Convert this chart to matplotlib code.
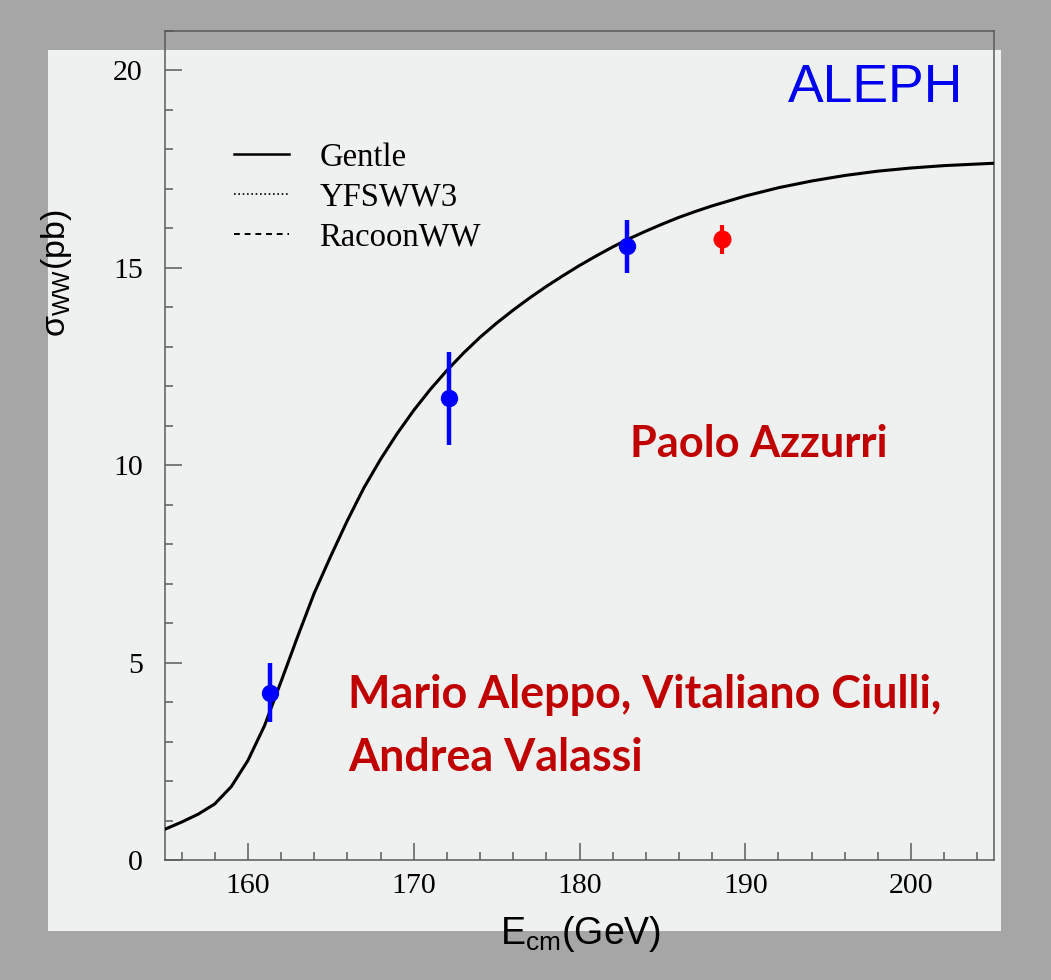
import matplotlib
matplotlib.use("Agg")
import matplotlib.pyplot as plt
from matplotlib.lines import Line2D
from matplotlib.patches import Rectangle
from matplotlib.ticker import MultipleLocator

# ---------------- data ----------------
curve_E = [155, 156, 157, 158, 159, 160, 161, 162, 163, 164, 165, 166, 167, 168,
           169, 170, 171, 172, 173, 174, 175, 176, 177, 178, 179, 180, 181, 182,
           183, 184, 185, 186, 187, 188, 190, 192, 194, 196, 198, 200, 202, 205]
curve_sigma = [0.78, 0.96, 1.16, 1.42, 1.86, 2.52, 3.40, 4.52, 5.66, 6.76, 7.70,
               8.60, 9.43, 10.15, 10.80, 11.39, 11.92, 12.40, 12.84, 13.24, 13.60,
               13.93, 14.24, 14.53, 14.80, 15.06, 15.30, 15.53, 15.74, 15.93,
               16.11, 16.28, 16.43, 16.57, 16.82, 17.03, 17.20, 17.34, 17.45,
               17.53, 17.59, 17.65]

aleph_E = [161.31, 172.1, 182.88]
aleph_sigma = [4.24, 11.70, 15.55]
aleph_err = [0.75, 1.18, 0.67]

new_E = [188.58]
new_sigma = [15.72]
new_err = [0.37]

legend_labels = ["Gentle", "YFSWW3", "RacoonWW"]
xticks = [160, 170, 180, 190, 200]
yticks = [0, 5, 10, 15, 20]

# ---------------- figure ----------------
W, H = 1051, 980
fig = plt.figure(figsize=(W / 100, H / 100), dpi=100)
fig.patch.set_facecolor("#a6a6a6")

def px(x, y):
    return x / W, 1 - y / H

# light panel
fig.patches.append(Rectangle(px(48, 931), (1001 - 48) / W, (931 - 50) / H,
                             transform=fig.transFigure, facecolor="#eff0f0",
                             edgecolor="none", zorder=-5))

l, b = px(165, 860)
r, t = px(994, 31)
ax = fig.add_axes([l, b, r - l, t - b])
ax.patch.set_alpha(0)

ax.plot(curve_E, curve_sigma, color="black", lw=2.2, zorder=3)
ax.errorbar(aleph_E, aleph_sigma, yerr=aleph_err, fmt="o", color="#0000ff",
            ms=11.5, elinewidth=3.2, capsize=0, zorder=4)
ax.errorbar(new_E, new_sigma, yerr=new_err, fmt="o", color="#ff0000",
            ms=12, elinewidth=3.0, capsize=0, zorder=4)

ax.set_xlim(155, 205)
ax.set_ylim(0, 21)
ax.set_xticks(xticks)
ax.set_yticks(yticks)
ax.xaxis.set_minor_locator(MultipleLocator(2))
ax.yaxis.set_minor_locator(MultipleLocator(1))

spine_col = "#5a5a5a"
for s in ax.spines.values():
    s.set_color(spine_col)
    s.set_linewidth(1.1)
ax.tick_params(which="both", direction="in", color=spine_col, width=1.1,
               top=False, right=False)
ax.tick_params(which="major", length=12.2)
ax.tick_params(which="minor", length=5.8)
ax.tick_params(axis="x", which="major", pad=9)
ax.tick_params(axis="y", which="major", pad=16)
for lab in ax.get_xticklabels() + ax.get_yticklabels():
    lab.set_fontfamily("Liberation Serif")
    lab.set_fontsize(21.5)
    lab.set_color("black")

# legend
handles = [Line2D([], [], color="black", lw=1.8, ls="-"),
           Line2D([], [], color="black", lw=1.2, ls=(0, (1, 1.6))),
           Line2D([], [], color="black", lw=1.4, ls=(0, (3, 2.5)))]
leg = ax.legend(handles, legend_labels, loc="upper left",
                bbox_to_anchor=((234 - 165) / 829, (860 - 142) / 829),
                frameon=False, borderpad=0, borderaxespad=0,
                handlelength=1.67, handletextpad=0.95, labelspacing=0.29,
                prop={"family": "Liberation Serif", "size": 23.5})

# ALEPH
fig.text(*px(788, 101.5), "ALEPH", color="#0000f0", fontsize=38.5,
         family="Liberation Sans", ha="left", va="baseline")

# axis labels
plt.rcParams["mathtext.fontset"] = "custom"
plt.rcParams["mathtext.rm"] = "Liberation Sans"
plt.rcParams["mathtext.it"] = "Liberation Sans:italic"
fig.text(*px(56, 273), r"σ$_{\mathrm{WW}}$(pb)", rotation=90, fontsize=24.5,
         family="Liberation Sans", ha="center", va="center")
fig.text(*px(500, 944), r"E$_{\mathrm{cm}}$(GeV)", fontsize=27,
         family="Liberation Sans", ha="left", va="baseline")

# red annotations, fitted to target widths
red = "#c00000"
renderer = fig.canvas.get_renderer()

def fit_text(x0, ybase, s, target_w, size0=30):
    tx = fig.text(*px(x0, ybase), s, color=red, fontsize=size0, family="Lato",
                  fontweight="bold", ha="left", va="baseline")
    w = tx.get_window_extent(renderer).width
    tx.set_fontsize(size0 * target_w / w)
    return tx

fit_text(630, 457, "Paolo Azzurri", 257)
t1 = fit_text(348, 708, "Mario Aleppo, Vitaliano Ciulli,", 593)
fig.text(*px(348, 771), "Andrea Valassi", color=red, fontsize=t1.get_fontsize(),
         family="Lato", fontweight="bold", ha="left", va="baseline")

fig.savefig("out.png", dpi=100, facecolor=fig.get_facecolor())
